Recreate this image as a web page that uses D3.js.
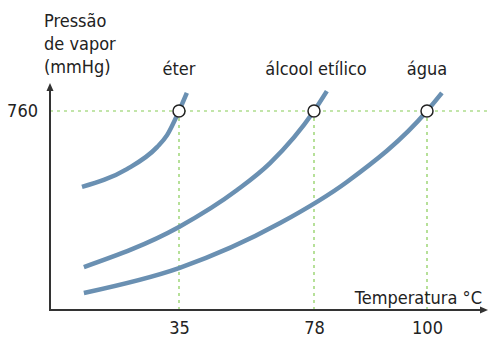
<!DOCTYPE html>
<html>
<head>
<meta charset="utf-8">
<script src="https://cdn.jsdelivr.net/npm/d3@7"></script>
<style>
  html, body { margin: 0; padding: 0; background: #fff; }
  text { font-family: "DejaVu Sans Condensed", "DejaVu Sans", sans-serif; fill: #222; }
</style>
</head>
<body>
<svg id="chart" width="488" height="338"></svg>
<script>
// ---- data ----
const substances = ["éter", "álcool etílico", "água"];
const boilingPoints = [35, 78, 100];          // °C at 760 mmHg (x tick labels)
const pressureTicks = [760];                  // y tick label
const yTitle = ["Pressão", "de vapor", "(mmHg)"];
const xTitle = "Temperatura °C";

// curve samples: temperature (°C, schematic) and pressure (mmHg, schematic)
const eterT = [4.1, 18.4, 28.0, 31.2, 35, 37.5];
const eterP = [470, 538, 622, 668, 760, 829];
const alcoolT = [4.7, 35, 53.5, 64.0, 78, 80.5];
const alcoolP = [164, 317, 458, 561, 760, 836];
const aguaT = [4.7, 35, 67.2, 84.4, 100, 102.9];
const aguaP = [65, 160, 332, 489, 760, 829];

const seriesT = [eterT, alcoolT, aguaT];
const seriesP = [eterP, alcoolP, aguaP];

// ---- layout ----
const svg = d3.select("#chart");
const x0 = 50, yBase = 310;
const x = d3.scaleLinear().domain(boilingPoints).range([179, 314, 427]);
const y = d3.scaleLinear().domain([0, 760]).range([yBase, 111]);

const green = "#86cc55";
const curveColor = "#6a90b2";

// guide lines
svg.append("line")
  .attr("x1", x0).attr("x2", 488)
  .attr("y1", y(760)).attr("y2", y(760))
  .attr("stroke", green).attr("stroke-width", 1.2).attr("stroke-dasharray", "3,4");
svg.selectAll(".vguide").data(boilingPoints).join("line")
  .attr("class", "vguide")
  .attr("x1", d => x(d)).attr("x2", d => x(d))
  .attr("y1", y(760)).attr("y2", yBase)
  .attr("stroke", green).attr("stroke-width", 1.2).attr("stroke-dasharray", "3,4");

// curves
const line = d3.line()
  .x(d => x(d[0])).y(d => y(d[1]))
  .curve(d3.curveMonotoneX);
svg.selectAll(".curve").data(seriesT.map((ts, i) => ts.map((t, j) => [t, seriesP[i][j]])))
  .join("path")
  .attr("class", "curve")
  .attr("d", line)
  .attr("fill", "none")
  .attr("stroke", curveColor)
  .attr("stroke-width", 4.5)
  .attr("stroke-linecap", "butt");

// axes lines with arrows
const axisColor = "#333";
svg.append("line").attr("x1", x0).attr("x2", x0).attr("y1", yBase + 1).attr("y2", 89)
  .attr("stroke", axisColor).attr("stroke-width", 2);
svg.append("path").attr("d", `M${x0},83 L${x0 - 3.5},91 L${x0 + 3.5},91 Z`).attr("fill", axisColor);
svg.append("line").attr("x1", x0 - 1).attr("x2", 482).attr("y1", yBase).attr("y2", yBase)
  .attr("stroke", axisColor).attr("stroke-width", 2);
svg.append("path").attr("d", `M488,${yBase} L480,${yBase - 3.5} L480,${yBase + 3.5} Z`).attr("fill", axisColor);

// tick labels through d3 axes
const xAxis = svg.append("g").attr("transform", `translate(0,${yBase})`)
  .call(d3.axisBottom(x).tickValues(boilingPoints).tickSize(0).tickPadding(11).tickFormat(d3.format("d")));
xAxis.select(".domain").remove();
xAxis.selectAll("text").attr("font-size", 18).attr("fill", "#222");
xAxis.attr("font-family", null);

const yAxis = svg.append("g").attr("transform", `translate(${x0},0)`)
  .call(d3.axisLeft(y).tickValues(pressureTicks).tickSize(0).tickPadding(12));
yAxis.select(".domain").remove();
yAxis.selectAll("text").attr("font-size", 18).attr("fill", "#222");
yAxis.attr("font-family", null);

// points at boiling points
svg.selectAll(".bp").data(boilingPoints).join("circle")
  .attr("class", "bp")
  .attr("cx", d => x(d)).attr("cy", y(760)).attr("r", 6)
  .attr("fill", "#fff").attr("stroke", "#222").attr("stroke-width", 1.5);

// substance labels
svg.selectAll(".lbl").data(substances).join("text")
  .attr("class", "lbl")
  .attr("x", (d, i) => x(boilingPoints[i]) + (i === 1 ? 2 : 0))
  .attr("y", 75)
  .attr("text-anchor", "middle")
  .attr("font-size", 18)
  .text(d => d);

// axis titles
svg.selectAll(".ytitle").data(yTitle).join("text")
  .attr("class", "ytitle")
  .attr("x", 44).attr("y", (d, i) => 27 + i * 23)
  .attr("font-size", 18)
  .text(d => d);
svg.append("text").attr("x", 482).attr("y", 304).attr("text-anchor", "end")
  .attr("font-size", 18).text(xTitle);
</script>
</body>
</html>
